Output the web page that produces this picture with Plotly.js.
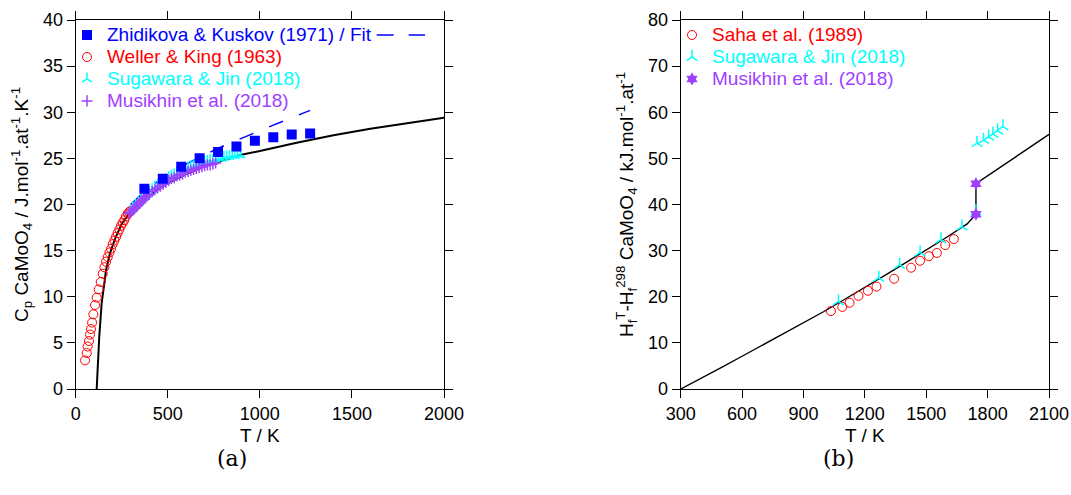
<!DOCTYPE html>
<html><head><meta charset="utf-8">
<script src="https://cdn.plot.ly/plotly-3.0.1.min.js"></script>
<style>html,body{margin:0;padding:0;background:#fff;}#chart{width:1071px;height:495px;}</style>
</head><body><div id="chart"></div>
<script>
// ---------- Panel (a): heat capacity ----------
const modelT_a = [114,128,141,150,165,186,214,250,300,350,400,500,600,700,800,900,1000,1200,1400,1600,1800,2000];
const modelCp_a = [0,5.7,9.3,10.8,12.9,14.7,16.3,17.9,19.3,20.3,21.0,22.3,23.3,24.1,24.8,25.4,25.8,26.7,27.5,28.2,28.8,29.4];

const zhidT = [373,473,573,673,773,873,973,1073,1173,1273];
const zhidCp = [21.7,22.8,24.1,25.0,25.7,26.3,26.9,27.3,27.6,27.7];

const fitT = [298,373,473,573,673,773,873,973,1073,1173,1273];
const fitCp = [20.0,21.4,22.9,24.1,25.1,26.1,26.95,27.8,28.6,29.4,30.2];

const wellerT = [51,60,65,72,78,83,89,96,105,114,125,136,147,156,165,174,183,192,201,210,219,228,237,246,255,264,273,283,291,298];
const wellerCp = [3.1,3.9,4.6,5.2,5.9,6.5,7.2,8.1,9.1,9.9,10.8,11.6,12.5,13.2,13.8,14.3,14.8,15.2,15.7,16.1,16.5,16.9,17.3,17.7,18.0,18.3,18.7,19.0,19.2,19.3];

const sugaT_a = [295,310,325,340,355,370,385,400,415,430,445,460,475,490,505,520,535,550,565,580,595,610,625,640,655,670,685,700,715,730,745,760,775,790,805,820,835,850,865,880,895];
const sugaCp_a = [19.3,19.6,19.9,20.2,20.5,20.8,21.1,21.3,21.6,21.9,22.1,22.3,22.5,22.7,22.9,23.1,23.2,23.4,23.5,23.7,23.8,24.0,24.1,24.2,24.3,24.4,24.5,24.6,24.7,24.8,24.8,24.9,25.0,25.0,25.1,25.2,25.2,25.3,25.3,25.4,25.4];

const musT_a = [290,300,310,320,330,340,350,360,370,380,390,400,415,430,445,460,475,490,505,520,535,550,565,580,595,610,625,640,655,670,685,700,715,730,745,760];
const musCp_a = [19.0,19.2,19.4,19.6,19.8,20.0,20.2,20.4,20.6,20.8,21.0,21.1,21.4,21.6,21.8,22.0,22.2,22.4,22.6,22.8,22.9,23.1,23.2,23.3,23.5,23.6,23.7,23.8,23.9,24.0,24.1,24.2,24.3,24.3,24.4,24.5];

// ---------- Panel (b): enthalpy increment ----------
const modelT_b = [300,400,500,600,700,800,900,1000,1100,1200,1300,1400,1500,1600,1700,1743,1743,1800,1900,2000,2100];
const modelH_b = [0,2.3,4.7,7.1,9.5,11.9,14.3,16.8,19.4,22.0,24.7,27.4,30.1,32.9,35.8,37.9,44.5,46.2,49.2,52.2,55.2];

const sahaT = [1034,1090,1125,1169,1215,1257,1343,1426,1470,1513,1552,1593,1635];
const sahaH = [16.9,17.8,18.7,20.2,21.3,22.2,23.9,26.3,27.8,28.8,29.5,31.2,32.5];

const sugaT_b = [1071,1268,1370,1470,1572,1675,1743,1748,1780,1805,1826,1849,1875];
const sugaH_b = [19.0,24.1,26.9,29.6,32.4,35.2,38.5,53.3,54.0,54.7,55.3,56.0,56.9];

const musT_b = [1743,1743];
const musH_b = [37.9,44.5];

const BLUE = '#0000ff', RED = '#ff0000', CYAN = '#00ffff', PURPLE = '#a040ff';
const lbl = (txt, col) => '<span style="color:' + col + ';font-size:19px">' + txt + '</span>';

const traces = [
  {x: modelT_a, y: modelCp_a, mode: 'lines', line: {color: '#000', width: 2}, showlegend: false, xaxis: 'x', yaxis: 'y', hoverinfo: 'skip'},
  {x: fitT, y: fitCp, mode: 'lines', line: {color: BLUE, width: 1.5, dash: '15px,17px'}, showlegend: false, xaxis: 'x', yaxis: 'y'},
  {x: wellerT, y: wellerCp, mode: 'markers', name: lbl('Weller &amp; King (1963)', RED),
   marker: {symbol: 'circle-open', size: 9, color: RED, line: {width: 1, color: RED}}, legend: 'legend', legendrank: 2, xaxis: 'x', yaxis: 'y'},
  {x: sugaT_a, y: sugaCp_a, mode: 'markers', name: lbl('Sugawara &amp; Jin (2018)', CYAN),
   marker: {symbol: 'y-up-open', size: 8, color: CYAN, line: {width: 1.5, color: CYAN}}, legend: 'legend', legendrank: 3, xaxis: 'x', yaxis: 'y'},
  {x: musT_a, y: musCp_a, mode: 'markers', name: lbl('Musikhin et al. (2018)', PURPLE),
   marker: {symbol: 'cross-thin-open', size: 8, color: PURPLE, line: {width: 1.5, color: PURPLE}}, legend: 'legend', legendrank: 4, xaxis: 'x', yaxis: 'y'},
  {x: zhidT, y: zhidCp, mode: 'markers', name: lbl('Zhidikova &amp; Kuskov (1971) / Fit', BLUE),
   marker: {symbol: 'square', size: 10, color: BLUE}, legend: 'legend', legendrank: 1, xaxis: 'x', yaxis: 'y'},

  {x: modelT_b, y: modelH_b, mode: 'lines', line: {color: '#000', width: 1.4}, showlegend: false, xaxis: 'x2', yaxis: 'y2', hoverinfo: 'skip'},
  {x: sahaT, y: sahaH, mode: 'markers', name: lbl('Saha et al. (1989)', RED),
   marker: {symbol: 'circle-open', size: 9, color: RED, line: {width: 1, color: RED}}, legend: 'legend2', legendrank: 1, xaxis: 'x2', yaxis: 'y2'},
  {x: sugaT_b, y: sugaH_b, mode: 'markers', name: lbl('Sugawara &amp; Jin (2018)', CYAN),
   marker: {symbol: 'y-up-open', size: 9, color: CYAN, line: {width: 1.5, color: CYAN}}, legend: 'legend2', legendrank: 2, xaxis: 'x2', yaxis: 'y2'},
  {x: musT_b, y: musH_b, mode: 'markers', name: lbl('Musikhin et al. (2018)', PURPLE),
   marker: {symbol: 'hexagram', size: 10, color: PURPLE}, legend: 'legend2', legendrank: 3, xaxis: 'x2', yaxis: 'y2'}
];

const FONT = 'Liberation Sans, Arial, sans-serif';
const axBase = {
  showgrid: false, zeroline: false, showline: true, linecolor: '#000', linewidth: 1,
  mirror: 'ticks', ticks: 'outside', ticklen: 8, tickwidth: 1, tickcolor: '#000',
  tickfont: {family: FONT, size: 18, color: '#000'}, automargin: false
};
const yDom = [106/495, 475/495];
const TF = {family: FONT, size: 19, color: '#000'};

const layout = {
  width: 1071, height: 495,
  margin: {l: 0, r: 0, t: 0, b: 0},
  paper_bgcolor: '#fff', plot_bgcolor: '#fff',
  font: {family: FONT, size: 18, color: '#000'},
  xaxis: Object.assign({}, axBase, {domain: [75.7/1071, 444/1071], range: [0, 2000], dtick: 500, tick0: 0,
    title: {text: 'T / K', font: TF, standoff: 6}}),
  yaxis: Object.assign({}, axBase, {domain: yDom, range: [0, 40], dtick: 5, tick0: 0,
    title: {text: 'C<sub>p</sub> CaMoO<sub>4</sub> / J.mol<sup>-1</sup>.at<sup>-1</sup>.K<sup>-1</sup>', font: TF}}),
  xaxis2: Object.assign({}, axBase, {anchor: 'y2', domain: [680.7/1071, 1049/1071], range: [300, 2100], dtick: 300, tick0: 300,
    title: {text: 'T / K', font: TF, standoff: 6}}),
  yaxis2: Object.assign({}, axBase, {anchor: 'x2', domain: yDom, range: [0, 80], dtick: 10, tick0: 0,
    title: {text: 'H<sub>f</sub><sup>T</sup>-H<sub>f</sub><sup>298</sup> CaMoO<sub>4</sub> / kJ.mol<sup>-1</sup>.at<sup>-1</sup>', font: TF}}),
  legend: {x: 67/1071, y: 476/495, xanchor: 'left', yanchor: 'top', bgcolor: 'rgba(0,0,0,0)', borderwidth: 0,
    font: {family: FONT, size: 14.6}, tracegroupgap: 0, traceorder: 'normal'},
  legend2: {x: 672/1071, y: 476/495, xanchor: 'left', yanchor: 'top', bgcolor: 'rgba(0,0,0,0)', borderwidth: 0,
    font: {family: FONT, size: 14.6}, tracegroupgap: 0, traceorder: 'normal'},
  shapes: [
    {type: 'line', xref: 'paper', yref: 'paper', x0: 376.7/1071, x1: 425/1071, y0: (495-35)/495, y1: (495-35)/495,
     line: {color: BLUE, width: 1.5, dash: '17px,15px'}}
  ],
  annotations: [
    {text: '(a)', xref: 'paper', yref: 'paper', x: 232/1071, y: (495-458)/495, xanchor: 'center', yanchor: 'middle', showarrow: false,
     font: {family: 'DejaVu Serif, Liberation Serif, serif', size: 22, color: '#000'}},
    {text: '(b)', xref: 'paper', yref: 'paper', x: 838/1071, y: (495-458)/495, xanchor: 'center', yanchor: 'middle', showarrow: false,
     font: {family: 'DejaVu Serif, Liberation Serif, serif', size: 22, color: '#000'}}
  ]
};

Plotly.newPlot('chart', traces, layout, {displayModeBar: false, staticPlot: true});
</script>
</body></html>
